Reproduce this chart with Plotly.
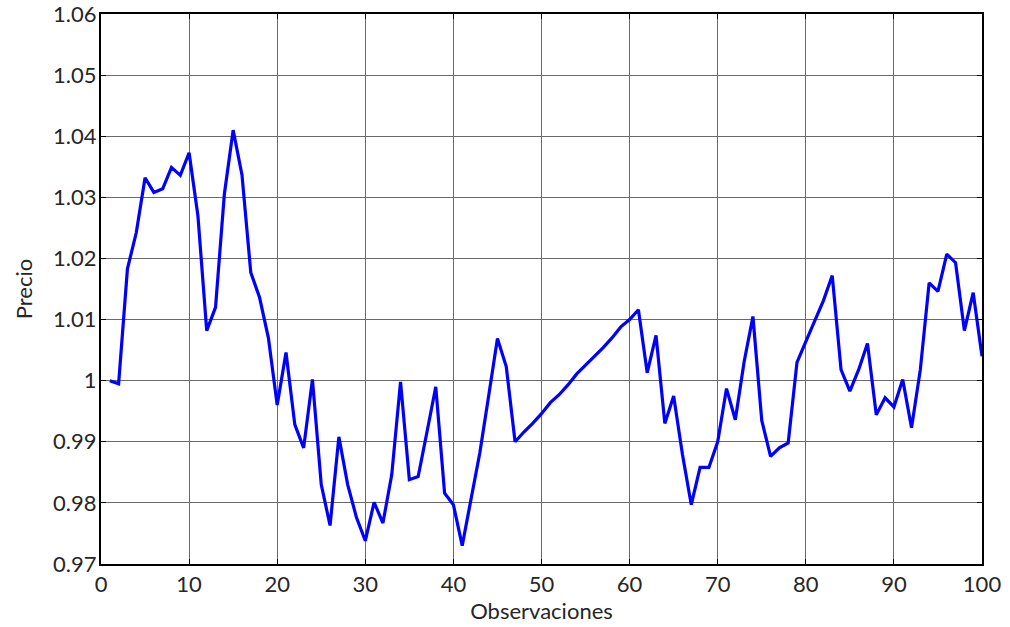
import plotly.graph_objects as go

observaciones = list(range(1, 101))
precio = [
    1.0000, 0.9995, 1.0183, 1.0242, 1.0332, 1.0308, 1.0314, 1.0349, 1.0336, 1.0373,
    1.0270, 1.0082, 1.0120, 1.0305, 1.0410, 1.0337, 1.0177, 1.0136, 1.0070, 0.9960,
    1.0046, 0.9928, 0.9890, 1.0002, 0.9830, 0.9763, 0.9908, 0.9830, 0.9776, 0.9738,
    0.9801, 0.9767, 0.9846, 0.9998, 0.9838, 0.9843, 0.9916, 0.9990, 0.9816, 0.9797,
    0.9730, 0.9805, 0.9882, 0.9975, 1.0069, 1.0023, 0.9900, 0.9916, 0.9930, 0.9946,
    0.9964, 0.9977, 0.9993, 1.0011, 1.0025, 1.0040, 1.0054, 1.0070, 1.0088, 1.0100,
    1.0116, 1.0013, 1.0074, 0.9930, 0.9975, 0.9879, 0.9797, 0.9858, 0.9858, 0.9900,
    0.9987, 0.9936, 1.0031, 1.0105, 0.9935, 0.9876, 0.9890, 0.9898, 1.0030, 1.0064,
    1.0098, 1.0131, 1.0172, 1.0018, 0.9983, 1.0018, 1.0061, 0.9944, 0.9972, 0.9957,
    1.0002, 0.9923, 1.0018, 1.0160, 1.0146, 1.0207, 1.0193, 1.0082, 1.0144, 1.0040,
]

x_tickvals = [0, 10, 20, 30, 40, 50, 60, 70, 80, 90, 100]
y_tickvals = [0.97, 0.98, 0.99, 1.00, 1.01, 1.02, 1.03, 1.04, 1.05, 1.06]
y_ticktext = ["0.97", "0.98", "0.99", "1", "1.01", "1.02", "1.03", "1.04", "1.05", "1.06"]

font_family = "Lato, 'Open Sans', sans-serif"
text_color = "#262626"

fig = go.Figure()
fig.add_trace(go.Scatter(
    x=observaciones, y=precio, mode="lines",
    line=dict(color="#0000ff", width=3.2),
    showlegend=False,
))

axis_common = dict(
    showline=True, linecolor="black", linewidth=2, mirror="ticks",
    ticks="inside", ticklen=5, tickwidth=1, tickcolor="black",
    showgrid=True, gridcolor="#6a6a6a", gridwidth=1,
    zeroline=False, automargin=False, ticklabeloverflow="allow",
    tickfont=dict(family=font_family, size=22, color=text_color),
)

fig.update_layout(
    width=1010, height=627,
    margin=dict(l=101, r=28, t=14, b=63),
    paper_bgcolor="white", plot_bgcolor="white",
    font=dict(family=font_family, size=22, color=text_color),
    xaxis=dict(
        range=[0, 100], tickvals=x_tickvals,
        title=dict(text="Observaciones", standoff=0, font=dict(size=22)),
        **axis_common,
    ),
    yaxis=dict(
        range=[0.97, 1.06], tickvals=y_tickvals, ticktext=y_ticktext,
        ticklabelstandoff=-2,
        title=dict(text="Precio", standoff=14, font=dict(size=22)),
        **axis_common,
    ),
)

fig.write_html(
    "out.html",
    config={"displayModeBar": False},
    post_script="document.body.style.margin='0';document.body.style.overflow='hidden';",
)
